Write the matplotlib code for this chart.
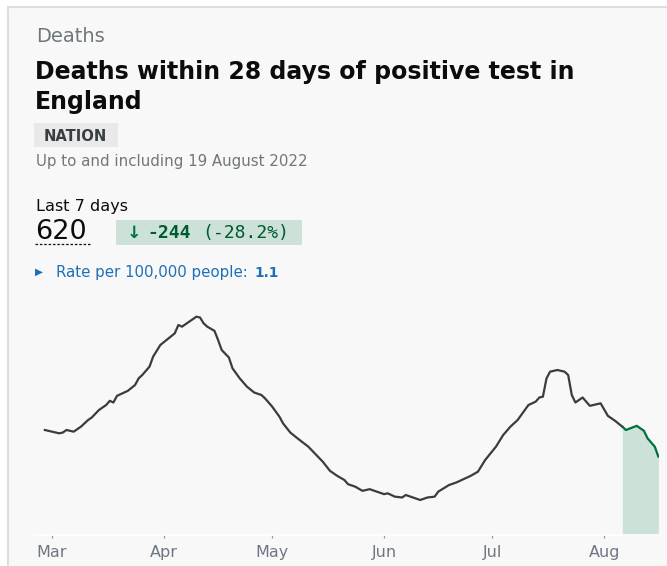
import matplotlib
matplotlib.use("Agg")
import matplotlib.pyplot as plt
from matplotlib.patches import Rectangle
import pandas as pd

# ---- data ----
dates = [
    "2022-02-27", "2022-02-28", "2022-03-03", "2022-03-04", "2022-03-05", "2022-03-07",
    "2022-03-09", "2022-03-11", "2022-03-12", "2022-03-14", "2022-03-16", "2022-03-17",
    "2022-03-18", "2022-03-19", "2022-03-22", "2022-03-24", "2022-03-25", "2022-03-26",
    "2022-03-28", "2022-03-29", "2022-03-31", "2022-04-02", "2022-04-04", "2022-04-05",
    "2022-04-06", "2022-04-08", "2022-04-10", "2022-04-11", "2022-04-12", "2022-04-13",
    "2022-04-15", "2022-04-16", "2022-04-17", "2022-04-19", "2022-04-20", "2022-04-22",
    "2022-04-24", "2022-04-26", "2022-04-28", "2022-04-29", "2022-05-01", "2022-05-03",
    "2022-05-04", "2022-05-06", "2022-05-08", "2022-05-11", "2022-05-13", "2022-05-15",
    "2022-05-17", "2022-05-19", "2022-05-21", "2022-05-22", "2022-05-24", "2022-05-26",
    "2022-05-28", "2022-05-30", "2022-06-01", "2022-06-02", "2022-06-04", "2022-06-06",
    "2022-06-07", "2022-06-09", "2022-06-11", "2022-06-13", "2022-06-15", "2022-06-16",
    "2022-06-19", "2022-06-21", "2022-06-23", "2022-06-25", "2022-06-27", "2022-06-29",
    "2022-07-02", "2022-07-04", "2022-07-06", "2022-07-08", "2022-07-10", "2022-07-11",
    "2022-07-13", "2022-07-14", "2022-07-15", "2022-07-16", "2022-07-17", "2022-07-19",
    "2022-07-21", "2022-07-22", "2022-07-23", "2022-07-24", "2022-07-26", "2022-07-28",
    "2022-07-29", "2022-07-31", "2022-08-02", "2022-08-04", "2022-08-06", "2022-08-07",
    "2022-08-10", "2022-08-12", "2022-08-13", "2022-08-15", "2022-08-16",
]
deaths = [
    126, 125, 122, 123, 126, 124,
    130, 138, 141, 150, 156, 161,
    159, 167, 173, 180, 188, 192,
    202, 214, 228, 235, 242, 252,
    250, 256, 262, 261, 254, 250,
    245, 234, 222, 213, 200, 188,
    178, 171, 168, 164, 154, 142,
    134, 123, 116, 106, 97, 88,
    77, 71, 66, 61, 58, 53,
    55, 52, 49, 50, 46, 45,
    48, 45, 42, 45, 46, 52,
    60, 63, 67, 71, 76, 90,
    106, 120, 130, 138, 150, 156,
    160, 165, 166, 188, 196, 198,
    196, 192, 168, 159, 165, 155,
    156, 158, 143, 137, 130, 126,
    131, 125, 116, 106, 94,
]
highlight_start = "2022-08-06"
tick_dates = ["2022-03-01", "2022-04-01", "2022-05-01", "2022-06-01", "2022-07-01", "2022-08-01"]
tick_labels = ["Mar", "Apr", "May", "Jun", "Jul", "Aug"]

header = "Deaths"
title_lines = ["Deaths within 28 days of positive test in", "England"]
area_tag = "NATION"
updated = "Up to and including 19 August 2022"
period_label = "Last 7 days"
headline_value = "620"
change_value = "-244"
change_pct = "(-28.2%)"
rate_label = "Rate per 100,000 people:"
rate_value = "1.1"

# ---- figure ----
W, H = 667, 566
fig = plt.figure(figsize=(W / 100, H / 100), dpi=100, facecolor="white")

bg = fig.add_axes([0, 0, 1, 1])
bg.set_xlim(0, W)
bg.set_ylim(H, 0)
bg.axis("off")

bg.add_patch(Rectangle((8, 7), 700, 600, facecolor="#f8f8f8", edgecolor="#dedede", lw=1.5))

sans = "DejaVu Sans"
bg.text(36, 41.5, header, fontsize=14, color="#6f777b", family=sans, va="baseline")
bg.text(35, 79.5, title_lines[0], fontsize=17, color="#0b0c0c", family=sans,
        weight="bold", va="baseline")
bg.text(35, 108.5, title_lines[1], fontsize=17, color="#0b0c0c", family=sans,
        weight="bold", va="baseline")

bg.add_patch(Rectangle((34, 123), 83.7, 24, facecolor="#e9e9e9", edgecolor="none"))
bg.text(43.3, 140.7, area_tag, fontsize=10.6, color="#383f43", family=sans,
        weight="bold", va="baseline")
bg.text(36, 166, updated, fontsize=10.8, color="#6f777b", family=sans, va="baseline")

bg.text(36, 210.7, period_label, fontsize=11.6, color="#0b0c0c", family=sans, va="baseline")
bg.text(35, 238.7, headline_value, fontsize=19.5, color="#0b0c0c", family=sans, va="baseline")
bg.plot([35, 91], [243.5, 243.5], color="#0b0c0c", lw=0.9, ls=(0, (2, 1.5)))

bg.add_patch(Rectangle((116.3, 220), 185.4, 25, facecolor="#cce2d8", edgecolor="none"))
bg.text(126.5, 238.3, "\u2193", fontsize=12.5, color="#00703c", family="DejaVu Sans",
        weight="bold", va="baseline")
bg.text(147, 238.3, change_value, fontsize=13, color="#005a30", family="DejaVu Sans Mono",
        weight="bold", va="baseline")
bg.text(202.5, 238.3, change_pct, fontsize=13, color="#005a30", family="DejaVu Sans Mono",
        va="baseline")

bg.text(35, 272, "\u25B6", fontsize=7.5, color="#1d70b8", family="DejaVu Sans", va="center")
bg.text(56, 276.7, rate_label, fontsize=10.8, color="#1d70b8", family=sans, va="baseline")
bg.text(254, 276.7, rate_value, fontsize=9.8, color="#1d70b8", family=sans,
        weight="bold", va="baseline")

# ---- chart axes ----
x0, x1, ytop, ybot = 34, 659, 300, 535
ax = fig.add_axes([x0 / W, 1 - ybot / H, (x1 - x0) / W, (ybot - ytop) / H])
ax.set_facecolor("none")

s = pd.Series(deaths, index=pd.to_datetime(dates))
hs = pd.Timestamp(highlight_start)
main = s[s.index <= hs]
recent = s[s.index >= hs]

ax.plot(main.index, main.values, color="#3a3c3e", lw=1.6, solid_joinstyle="round")
ax.fill_between(recent.index, 0, recent.values, color="#cce2d8", lw=0)
ax.plot(recent.index, recent.values, color="#00703c", lw=1.6, solid_joinstyle="round")

ax.set_xlim(pd.Timestamp("2022-03-01") - pd.Timedelta(days=5),
            pd.Timestamp("2022-08-16") + pd.Timedelta(hours=4))
ax.set_ylim(0, (ybot - ytop) * 1.2)

for sp in ["top", "left", "right"]:
    ax.spines[sp].set_visible(False)
ax.spines["bottom"].set_color("#ffffff")
ax.spines["bottom"].set_linewidth(1.2)
ax.set_yticks([])
ax.set_xticks(pd.to_datetime(tick_dates))
ax.set_xticklabels(tick_labels)
ax.tick_params(axis="x", length=2.5, width=0.9, color="#9a9a9a", pad=4.5,
               labelsize=11.5, labelcolor="#6e7884")
for lbl in ax.get_xticklabels():
    lbl.set_family("DejaVu Sans")

fig.savefig("out.png", dpi=100, facecolor="white")
